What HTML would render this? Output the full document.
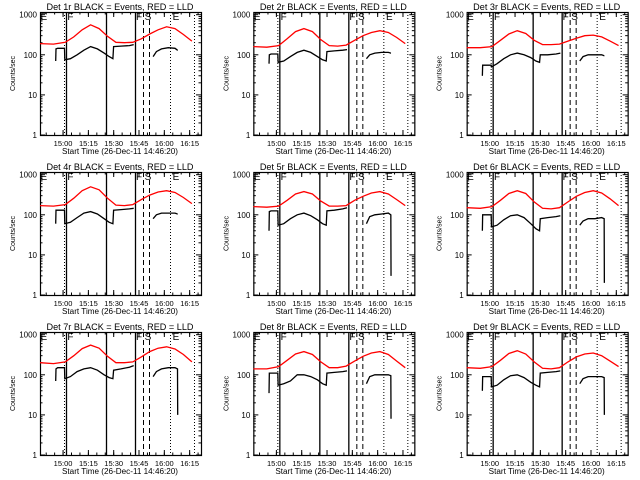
<!DOCTYPE html>
<html><head><meta charset="utf-8"><style>
body{margin:0;background:#fff;}
svg{display:block;font-family:"Liberation Sans",sans-serif;}
</style></head><body>
<svg id="c" width="640" height="480" xmlns="http://www.w3.org/2000/svg"></svg>
<script>
const detNames = ["1r","2r","3r","4r","5r","6r","7r","8r","9r"];
const redTimes = [0,8,15,20,25,30,35,40,45,50,55,60,65,70,75,80,85,90];
const red1 = [190,185,205,280,420,560,450,290,205,200,205,250,330,420,500,450,320,220];
const red2 = [160,155,170,250,380,450,380,240,170,165,175,230,300,360,400,360,270,190];
const red3 = [150,150,160,230,330,400,340,230,180,180,185,220,260,300,310,280,220,170];
const red4 = [170,165,180,260,400,500,420,260,175,170,180,240,310,370,400,360,270,190];
const red5 = [160,155,165,230,330,380,330,220,165,165,170,230,290,350,380,330,240,170];
const red6 = [150,145,160,230,340,400,340,210,145,140,150,210,290,360,400,350,250,170];
const red7 = [200,190,210,300,450,550,460,290,200,200,210,280,380,460,500,440,320,210];
const red8 = [140,140,160,230,330,380,320,210,150,150,165,220,290,350,380,320,220,150];
const red9 = [150,145,160,230,340,400,330,210,145,140,150,210,280,330,350,300,220,160];
const reds = [red1,red2,red3,red4,red5,red6,red7,red8,red9];
const blackTimes = [9.3,9.5,10.5,14.5,14.7,18,22,26,30,34,38,41,43.2,43.6,48,53,55.5,null,67,69,72,76,80,81.5,81.6];
const blk1 = [70,140,145,145,75,80,100,130,160,140,110,90,80,160,165,170,180,null,90,120,140,150,145,130,130];
const blk2 = [60,100,105,105,65,70,90,115,130,115,90,75,70,120,125,130,135,null,80,100,110,115,115,110,110];
const blk3 = [30,55,55,55,50,60,80,100,110,100,85,70,65,100,100,105,110,null,70,90,100,100,100,95,95];
const blk4 = [60,130,130,130,60,65,85,110,120,105,80,65,60,130,135,140,145,null,80,100,110,110,110,105,105];
const blk5 = [40,120,125,125,55,60,80,100,110,95,75,60,55,125,130,140,150,null,60,90,100,105,110,100,3];
const blk6 = [40,100,100,100,50,55,75,95,100,85,60,45,40,80,85,90,95,null,55,70,80,80,85,80,2];
const blk7 = [70,140,150,150,80,90,120,140,150,130,100,85,80,130,140,155,170,null,90,120,140,150,150,140,10];
const blk8 = [35,110,110,110,55,60,70,100,100,90,75,60,55,110,115,120,125,null,60,90,100,100,100,95,8];
const blk9 = [40,90,90,90,50,55,75,95,100,85,65,55,50,110,115,120,125,null,60,80,90,90,90,85,10];
const blacks = [blk1,blk2,blk3,blk4,blk5,blk6,blk7,blk8,blk9];
const markerTimes = [14.2,15.4,39.1,56.3,61.0,64.6,77.0,91.2];
const markerStyles = ["dot","solid","solid","solid","dash","dash","dot","dot"];
const letterLabels = ["E","F","F","S","E"];
const letterTimes = [0.3,16.2,56.9,62.0,78.6];
const xTickLabels = ["15:00","15:15","15:30","15:45","16:00","16:15"];
const xTickTimes = [13.67,28.67,43.67,58.67,73.67,88.67];
const yTickLabels = ["1","10","100","1000"];
const yTickVals = [1,10,100,1000];

const NS="http://www.w3.org/2000/svg";
const svg=document.getElementById('c');
function mk(tag,attrs,parent){const e=document.createElementNS(NS,tag);for(const k in attrs)e.setAttribute(k,attrs[k]);(parent||svg).appendChild(e);return e;}
const BX0=40,BX1=201,BY0=12,BY1=135,TMAX=95.4,DEC=40.1;
for(let p=0;p<9;p++){
  const col=p%3,row=Math.floor(p/3);
  const ox=col*213.33,oy=row*160;
  const g=mk('g',{transform:`translate(${ox.toFixed(2)},${oy})`});
  
  
  const xs=t=>BX0+t*(BX1-BX0)/TMAX;
  const ys=v=>BY1-Math.log10(v)*DEC;
  const ti=mk('text',{x:120,y:10,'text-anchor':'middle','font-size':9.5,fill:'#000','textLength':147,'lengthAdjust':'spacingAndGlyphs'},g);
  ti.textContent='Det '+detNames[p]+' BLACK = Events, RED = LLD';
  
  
  const bx=mk('rect',{x:BX0+0.5,y:BY0+0.5,width:BX1-BX0,height:BY1-BY0,fill:'none',stroke:'#000','stroke-width':1.2},g);
  
  
  for(let i=0;i<yTickVals.length;i++){
    const y=ys(yTickVals[i]);
    mk('line',{x1:BX0,x2:BX0+5,y1:y,y2:y,stroke:'#000'},g);
    mk('line',{x1:BX1,x2:BX1-5,y1:y,y2:y,stroke:'#000'},g);
    const tl=mk('text',{x:BX0-3,y:y+3,'text-anchor':'end','font-size':8,fill:'#000'},g);
    tl.textContent=yTickLabels[i];
    
    
    if(i<yTickVals.length-1){for(let m=2;m<10;m++){const ym=ys(yTickVals[i]*m);
      mk('line',{x1:BX0,x2:BX0+2.5,y1:ym,y2:ym,stroke:'#000'},g);
      mk('line',{x1:BX1,x2:BX1-2.5,y1:ym,y2:ym,stroke:'#000'},g);}}
  }
  for(let i=0;i<xTickTimes.length;i++){
    const x=xs(xTickTimes[i]);
    mk('line',{x1:x,x2:x,y1:BY1,y2:BY1-5,stroke:'#000'},g);
    mk('line',{x1:x,x2:x,y1:BY0,y2:BY0+5,stroke:'#000'},g);
    const tl=mk('text',{x:x,y:BY1+11,'text-anchor':'middle','font-size':7.5,fill:'#000'},g);
    tl.textContent=xTickLabels[i];
    
    
  }
  for(let t=-11.33;t<TMAX;t+=5){if(t<0)continue;const x=xs(t);
    mk('line',{x1:x,x2:x,y1:BY1,y2:BY1-2.5,stroke:'#000'},g);
    mk('line',{x1:x,x2:x,y1:BY0,y2:BY0+2.5,stroke:'#000'},g);}
  const xl=mk('text',{x:120,y:BY1+19,'text-anchor':'middle','font-size':8,fill:'#000','textLength':116,'lengthAdjust':'spacingAndGlyphs'},g);
  xl.textContent='Start Time (26-Dec-11 14:46:20)';
  
  
  const yl=mk('text',{x:0,y:0,'text-anchor':'middle','font-size':7,fill:'#000',transform:`translate(15,${(BY0+BY1)/2}) rotate(-90)`},g);
  yl.textContent='Counts/sec';
  
  
  for(let i=0;i<markerTimes.length;i++){
    const x=Math.round(xs(markerTimes[i]))+0.5;
    const st=markerStyles[i];
    const ml=mk('line',{x1:x,x2:x,y1:BY0,y2:BY1,stroke:'#000','stroke-width':st==='solid'?1.3:1,'stroke-dasharray':st==='dot'?'1,2':(st==='dash'?'5,3':'none')},g);
    
    
  }
  for(let i=0;i<letterLabels.length;i++){
    const lt=mk('text',{x:xs(letterTimes[i]),y:BY0+8,'font-size':10,fill:'#000'},g);
    lt.textContent=letterLabels[i];
    
    
  }
  const rv=reds[p];
  const rp=mk('polyline',{points:redTimes.map((t,i)=>xs(t).toFixed(1)+','+ys(rv[i]).toFixed(1)).join(' '),fill:'none',stroke:'#ff0000','stroke-width':1.3},g);
  
  
  const bv=blacks[p];
  let segs=[],cur=[];
  for(let i=0;i<blackTimes.length;i++){
    if(blackTimes[i]===null||bv[i]===null){if(cur.length)segs.push(cur);cur=[];continue;}
    cur.push(xs(blackTimes[i]).toFixed(1)+','+ys(bv[i]).toFixed(1));
  }
  if(cur.length)segs.push(cur);
  for(const s of segs){
    const bp=mk('polyline',{points:s.join(' '),fill:'none',stroke:'#000','stroke-width':1.3},g);
    
    
  }
}
</script>
</body></html>
